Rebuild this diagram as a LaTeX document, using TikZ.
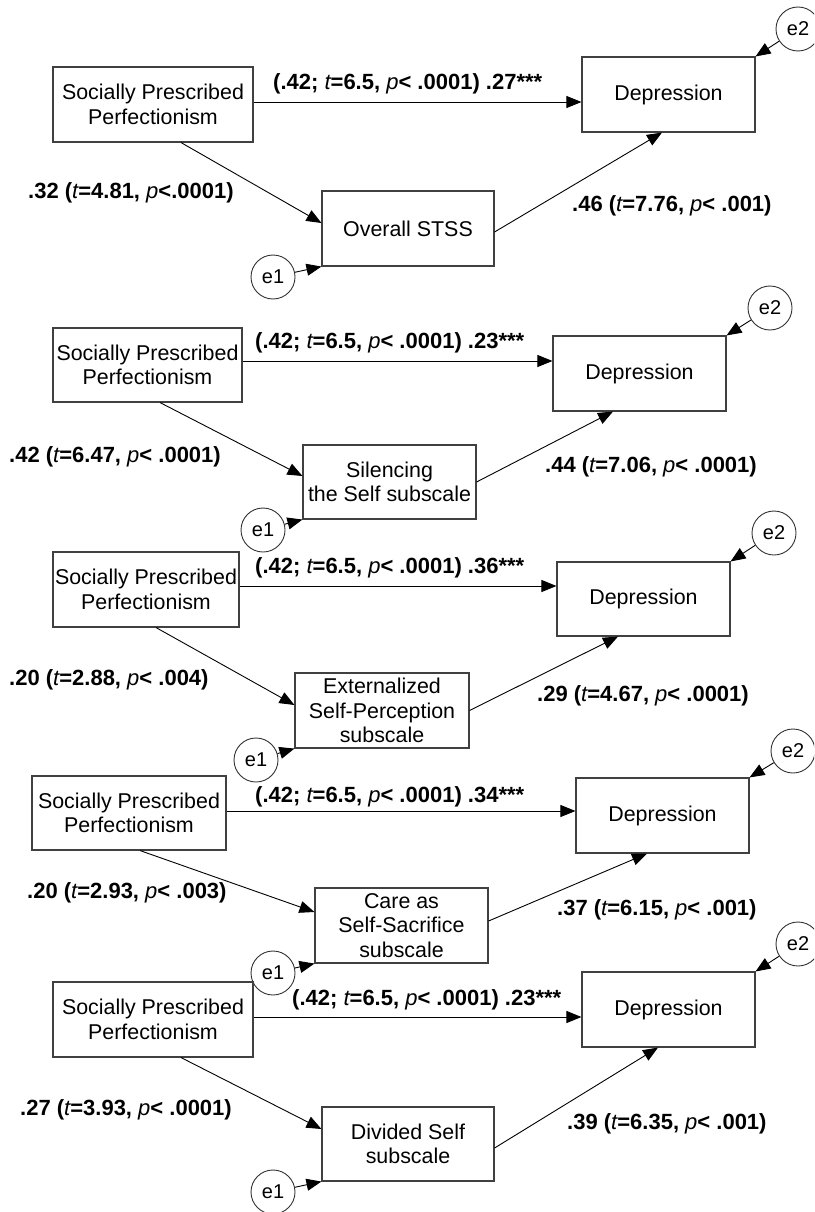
\documentclass[tikz,border=0pt]{standalone}
\usepackage{fontspec}
\setmainfont{Liberation Sans}
\usetikzlibrary{arrows.meta, calc}
\newcommand{\tval}{{\mdseries\itshape t}}
\newcommand{\pval}{{\mdseries\itshape p}}

\begin{document}
\begin{tikzpicture}[
  x=1pt, y=-1pt,
  >={Triangle[length=15pt, width=12pt]},
  var/.style={draw=black!75, line width=1.1pt, align=center, inner sep=1pt,
              minimum height=75pt, font=\fontsize{21.4}{24.5}\selectfont},
  err/.style={draw=black!80, line width=0.9pt, circle, minimum size=44pt,
              inner sep=0pt, font=\fontsize{20}{24}\selectfont},
  link/.style={draw=black, line width=0.9pt, ->},
  coef/.style={anchor=west, inner sep=0pt, font=\fontsize{22}{26}\selectfont\bfseries}
]
\useasboundingbox (0,0) rectangle (814,1212);
\fill[white] (0,0) rectangle (814,1212);
\clip (0,0) rectangle (814,1212);

% ---- Panel 1: Overall STSS ----
\node[var, minimum width=200pt] (spp1) at (153,104.5) {Socially Prescribed\\Perfectionism};
\node[var, minimum width=173pt] (dep1) at (668.5,94.5) {Depression};
\node[var, minimum width=172pt] (med1) at (408,228.5) {Overall STSS};
\node[err] (e1a) at (273,277) {e1};
\node[err] (e2a) at (798,29) {e2};

\draw[link] ($(spp1.east)+(0,-2.5)$) -- ($(spp1.east -| dep1.west)+(0,-2.5)$);
\draw[link] ($(spp1.south)+(28,0)$) -- ($(med1.west)+(0,-5.5)$);
\draw[link] ($(med1.east)+(0,3.5)$) -- ($(dep1.south)+(-6.5,0)$);
\draw[link] (e1a) -- (med1.south west);
\draw[link] (e2a) -- (dep1.north east);

\node[coef] (c1a) at (273,84) {(.42; \tval=6.5, \pval< .0001) .27***};
\node[coef] (c1b) at (28,193) {.32 (\tval=4.81, \pval<.0001)};
\node[coef] (c1c) at (572,206) {.46 (\tval=7.76, \pval< .001)};

% ---- Panel 2: Silencing the Self ----
\node[var, minimum width=189pt, minimum height=74pt] (spp2) at (147.5,365) {Socially Prescribed\\Perfectionism};
\node[var, minimum width=173pt] (dep2) at (639.5,373.5) {Depression};
\node[var, minimum width=173pt, minimum height=74pt] (med2) at (389.5,482) {Silencing\\the Self subscale};
\node[err] (e1b) at (263,530) {e1};
\node[err] (e2b) at (770,308) {e2};

\draw[link] ($(spp2.east)+(0,-4)$) -- ($(spp2.east -| dep2.west)+(0,-4)$);
\draw[link] ($(spp2.south)+(12.5,0)$) -- ($(med2.west)+(0,-6)$);
\draw[link] (med2.east) -- ($(dep2.south)+(-26.5,0)$);
\draw[link] (e1b) -- (med2.south west);
\draw[link] (e2b) -- (dep2.north east);

\node[coef] (c2a) at (255,343) {(.42; \tval=6.5, \pval< .0001) .23***};
\node[coef] (c2b) at (9,457) {.42 (\tval=6.47, \pval< .0001)};
\node[coef] (c2c) at (545,467) {.44 (\tval=7.06, \pval< .0001)};

% ---- Panel 3: Externalized Self-Perception ----
\node[var, minimum width=186pt] (spp3) at (146,589.5) {Socially Prescribed\\Perfectionism};
\node[var, minimum width=173pt, minimum height=74pt] (dep3) at (643.5,599) {Depression};
\node[var, minimum width=174pt] (med3) at (382,710.5) {Externalized\\Self-Perception\\subscale};
\node[err] (e1c) at (256,760) {e1};
\node[err] (e2c) at (774,533) {e2};

\draw[link] ($(spp3.east)+(0,-3.5)$) -- ($(spp3.east -| dep3.west)+(0,-3.5)$);
\draw[link] ($(spp3.south)+(10,0)$) -- ($(med3.west)+(0,-5.5)$);
\draw[link] (med3.east) -- ($(dep3.south)+(-25.5,0)$);
\draw[link] (e1c) -- (med3.south west);
\draw[link] (e2c) -- (dep3.north east);

\node[coef] (c3a) at (255,568) {(.42; \tval=6.5, \pval< .0001) .36***};
\node[coef] (c3b) at (9,680) {.20 (\tval=2.88, \pval< .004)};
\node[coef] (c3c) at (537,696) {.29 (\tval=4.67, \pval< .0001)};

% ---- Panel 4: Care as Self-Sacrifice ----
\node[var, minimum width=194pt, minimum height=74pt] (spp4) at (129,813) {Socially Prescribed\\Perfectionism};
\node[var, minimum width=173pt] (dep4) at (662.5,815.5) {Depression};
\node[var, minimum width=173pt] (med4) at (401.5,925.5) {Care as\\Self-Sacrifice\\subscale};
\node[err] (e1d) at (273,973) {e1};
\node[err] (e2d) at (793,751) {e2};

\draw[link] ($(spp4.east)+(0,-2)$) -- ($(spp4.east -| dep4.west)+(0,-2)$);
\draw[link] ($(spp4.south)+(11,0)$) -- ($(med4.west)+(0,-13.5)$);
\draw[link] ($(med4.east)+(0,-4.5)$) -- ($(dep4.south)+(-15.5,0)$);
\draw[link] (e1d) -- (med4.south west);
\draw[link] (e2d) -- (dep4.north east);

\node[coef] (c4a) at (255,797) {(.42; \tval=6.5, \pval< .0001) .34***};
\node[coef] (c4b) at (27,893) {.20 (\tval=2.93, \pval< .003)};
\node[coef] (c4c) at (557,910) {.37 (\tval=6.15, \pval< .001)};

% ---- Panel 5: Divided Self ----
\node[var, minimum width=200pt] (spp5) at (153,1019.5) {Socially Prescribed\\Perfectionism};
\node[var, minimum width=173pt] (dep5) at (668.5,1009.5) {Depression};
\node[var, minimum width=172pt, minimum height=74pt] (med5) at (408,1144) {Divided Self\\subscale};
\node[err] (e1e) at (273,1192) {e1};
\node[err] (e2e) at (798,944) {e2};

\draw[link] ($(spp5.east)+(0,-2.5)$) -- ($(spp5.east -| dep5.west)+(0,-2.5)$);
\draw[link] ($(spp5.south)+(28,0)$) -- ($(med5.west)+(0,-15)$);
\draw[link] ($(med5.east)+(0,4)$) -- ($(dep5.south)+(-10.5,0)$);
\draw[link] (e1e) -- (med5.south west);
\draw[link] (e2e) -- (dep5.north east);

\node[coef] (c5a) at (292,1000) {(.42; \tval=6.5, \pval< .0001) .23***};
\node[coef] (c5b) at (20,1110) {.27 (\tval=3.93, \pval< .0001)};
\node[coef] (c5c) at (567,1124) {.39 (\tval=6.35, \pval< .001)};

\end{tikzpicture}
\end{document}
